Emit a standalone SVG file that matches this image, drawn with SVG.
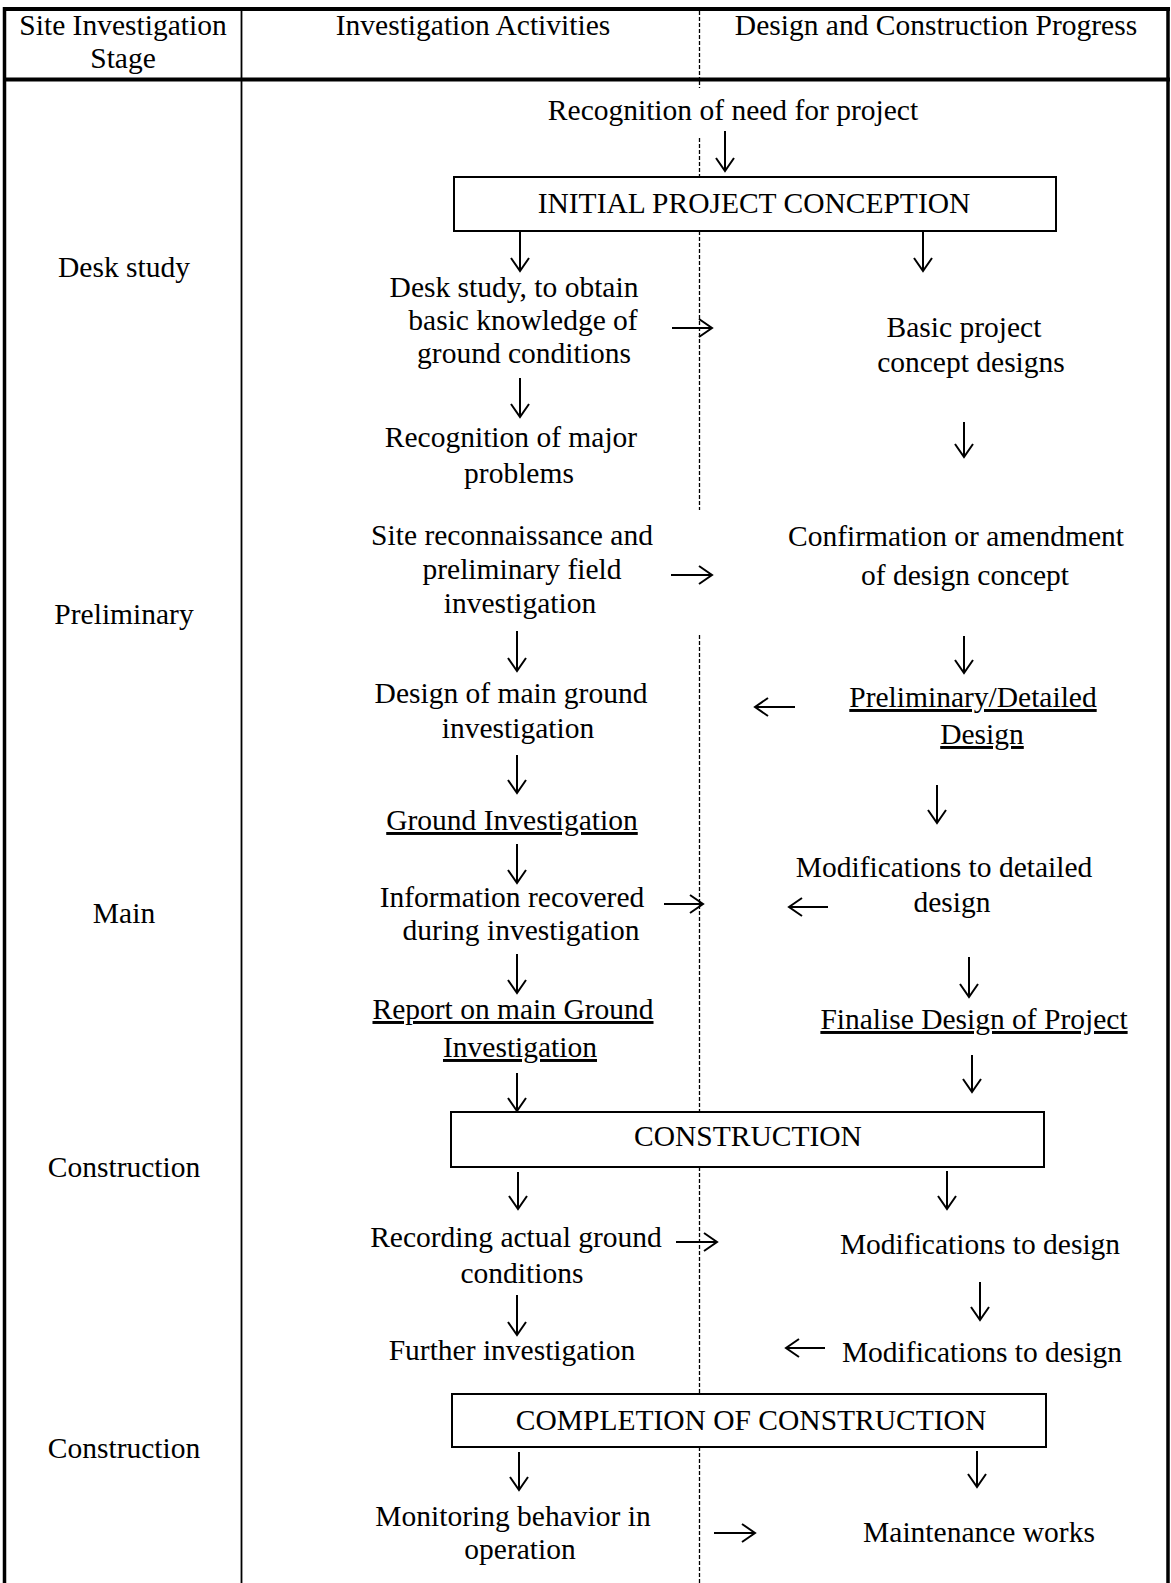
<svg xmlns="http://www.w3.org/2000/svg" width="1171" height="1583" viewBox="0 0 1171 1583">
<style>
.t{font-family:"Liberation Serif","Times New Roman",serif;font-size:29.5px;fill:#000;text-anchor:middle}
.u{text-decoration:underline}
.arr{stroke:#000;stroke-width:2;fill:none;marker-end:url(#ah)}
.dash{stroke:#000;stroke-width:1.3;stroke-dasharray:4 2;fill:none}
.box{fill:#fff;stroke:#000;stroke-width:2}
.frame{stroke:#000;fill:none}
</style>
<defs>
<marker id="ah" markerUnits="userSpaceOnUse" markerWidth="24" markerHeight="24" refX="14" refY="10" orient="auto">
<path d="M1,1 L14,10 L1,19" fill="none" stroke="#000" stroke-width="2"/>
</marker>
</defs>
<rect width="1171" height="1583" fill="#fff"/>

<g id="table">
<line class="frame" x1="3" y1="9" x2="1170" y2="9" stroke-width="4"/>
<line class="frame" x1="3" y1="79.5" x2="1170" y2="79.5" stroke-width="4"/>
<line class="frame" x1="4.5" y1="7" x2="4.5" y2="1583" stroke-width="3.5"/>
<line class="frame" x1="1168" y1="7" x2="1168" y2="1583" stroke-width="3.5"/>
<line class="frame" x1="241.5" y1="9" x2="241.5" y2="1583" stroke-width="1.8"/>
<path class="dash" d="M699.5,11 V78 M699.5,81 V88 M699.5,138 V177 M699.5,231 V510 M699.5,635 V1112 M699.5,1167 V1394 M699.5,1447 V1583"/>
</g>

<g id="headers">
<text class="t" x="123" y="35">Site Investigation</text>
<text class="t" x="123" y="68">Stage</text>
<text class="t" x="473" y="35">Investigation Activities</text>
<text class="t" x="936" y="35">Design and Construction Progress</text>
</g>

<g id="stages">
<text class="t" x="124" y="277">Desk study</text>
<text class="t" x="124" y="624">Preliminary</text>
<text class="t" x="124" y="923">Main</text>
<text class="t" x="124" y="1177">Construction</text>
<text class="t" x="124" y="1458">Construction</text>
</g>

<g id="n-need"><text class="t" x="733" y="120">Recognition of need for project</text></g>
<g id="n-initial"><rect class="box" x="454" y="177" width="602" height="54"/><text class="t" x="754" y="213">INITIAL PROJECT CONCEPTION</text></g>
<g id="n-desk"><text class="t" x="514" y="297">Desk study, to obtain</text><text class="t" x="523" y="330">basic knowledge of</text><text class="t" x="524" y="363">ground conditions</text></g>
<g id="n-basic"><text class="t" x="964" y="337">Basic project</text><text class="t" x="971" y="372">concept designs</text></g>
<g id="n-major"><text class="t" x="511" y="447">Recognition of major</text><text class="t" x="519" y="483">problems</text></g>
<g id="n-recon"><text class="t" x="512" y="545">Site reconnaissance and</text><text class="t" x="522" y="579">preliminary field</text><text class="t" x="520" y="613">investigation</text></g>
<g id="n-confirm"><text class="t" x="956" y="546">Confirmation or amendment</text><text class="t" x="965" y="585">of design concept</text></g>
<g id="n-designgi"><text class="t" x="511" y="703">Design of main ground</text><text class="t" x="518" y="738">investigation</text></g>
<g id="n-prelim"><text class="t u" x="973" y="707">Preliminary/Detailed</text><text class="t u" x="982" y="744">Design</text></g>
<g id="n-gi"><text class="t u" x="512" y="830">Ground Investigation</text></g>
<g id="n-moddet"><text class="t" x="944" y="877">Modifications to detailed</text><text class="t" x="952" y="912">design</text></g>
<g id="n-info"><text class="t" x="512" y="907">Information recovered</text><text class="t" x="521" y="940">during investigation</text></g>
<g id="n-report"><text class="t u" x="513" y="1019">Report on main Ground</text><text class="t u" x="520" y="1057">Investigation</text></g>
<g id="n-finalise"><text class="t u" x="974" y="1029">Finalise Design of Project</text></g>
<g id="n-construction"><rect class="box" x="451" y="1112" width="593" height="55"/><text class="t" x="748" y="1146">CONSTRUCTION</text></g>
<g id="n-recording"><text class="t" x="516" y="1247">Recording actual ground</text><text class="t" x="522" y="1283">conditions</text></g>
<g id="n-mod1"><text class="t" x="980" y="1254">Modifications to design</text></g>
<g id="n-further"><text class="t" x="512" y="1360">Further investigation</text></g>
<g id="n-mod2"><text class="t" x="982" y="1362">Modifications to design</text></g>
<g id="n-completion"><rect class="box" x="452" y="1394" width="594" height="53"/><text class="t" x="751" y="1430">COMPLETION OF CONSTRUCTION</text></g>
<g id="n-monitor"><text class="t" x="513" y="1526">Monitoring behavior in</text><text class="t" x="520" y="1559">operation</text></g>
<g id="n-maint"><text class="t" x="979" y="1542">Maintenance works</text></g>

<g id="connectors">
<line class="arr" x1="725" y1="131" x2="725" y2="171"/>
<line class="arr" x1="520" y1="232" x2="520" y2="271"/>
<line class="arr" x1="923" y1="232" x2="923" y2="271"/>
<line class="arr" x1="672" y1="328" x2="712" y2="328"/>
<line class="arr" x1="520" y1="378" x2="520" y2="417"/>
<line class="arr" x1="964" y1="422" x2="964" y2="457"/>
<line class="arr" x1="671" y1="575" x2="712" y2="575"/>
<line class="arr" x1="517" y1="631" x2="517" y2="671"/>
<line class="arr" x1="964" y1="636" x2="964" y2="673"/>
<line class="arr" x1="795" y1="707" x2="755" y2="707"/>
<line class="arr" x1="517" y1="755" x2="517" y2="793"/>
<line class="arr" x1="937" y1="785" x2="937" y2="823"/>
<line class="arr" x1="517" y1="844" x2="517" y2="883"/>
<line class="arr" x1="664" y1="904" x2="703" y2="904"/>
<line class="arr" x1="828" y1="907" x2="789" y2="907"/>
<line class="arr" x1="517" y1="954" x2="517" y2="993"/>
<line class="arr" x1="969" y1="957" x2="969" y2="997"/>
<line class="arr" x1="517" y1="1073" x2="517" y2="1111"/>
<line class="arr" x1="972" y1="1055" x2="972" y2="1092"/>
<line class="arr" x1="518" y1="1172" x2="518" y2="1209"/>
<line class="arr" x1="947" y1="1171" x2="947" y2="1209"/>
<line class="arr" x1="676" y1="1242" x2="717" y2="1242"/>
<line class="arr" x1="517" y1="1295" x2="517" y2="1335"/>
<line class="arr" x1="980" y1="1282" x2="980" y2="1320"/>
<line class="arr" x1="825" y1="1348" x2="786" y2="1348"/>
<line class="arr" x1="519" y1="1452" x2="519" y2="1490"/>
<line class="arr" x1="977" y1="1451" x2="977" y2="1487"/>
<line class="arr" x1="714" y1="1533" x2="755" y2="1533"/>
</g>
</svg>
